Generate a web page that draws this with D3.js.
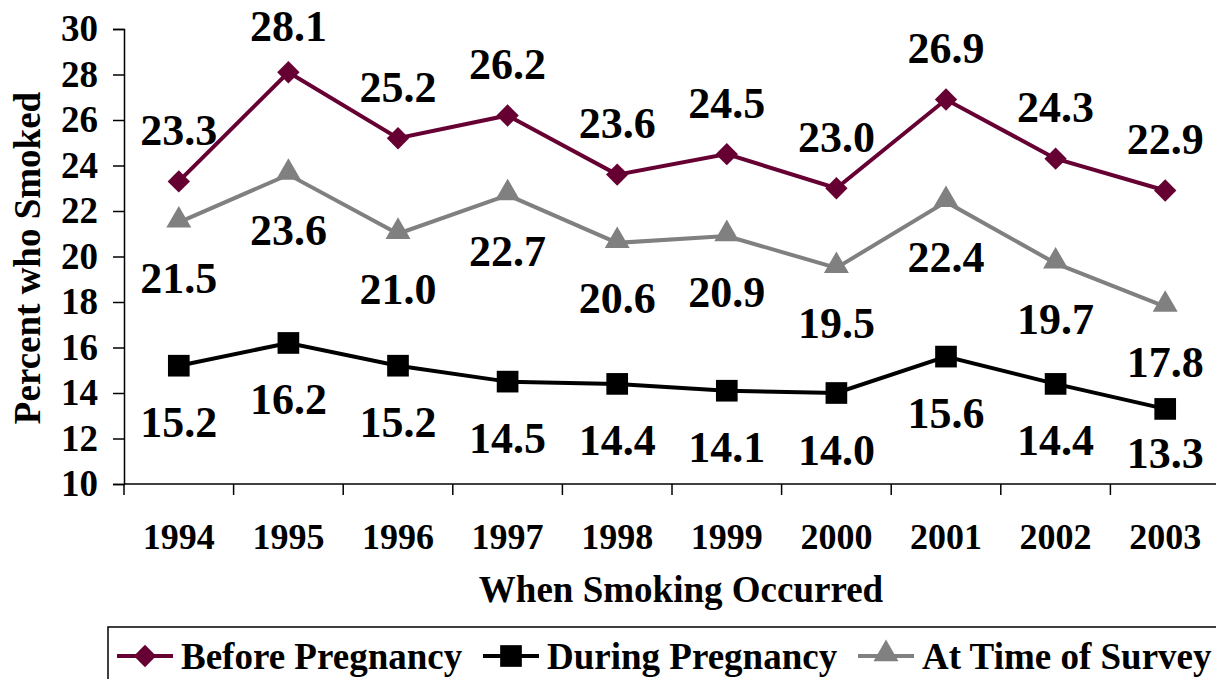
<!DOCTYPE html>
<html>
<head>
<meta charset="utf-8" />
<script src="https://d3js.org/d3.v7.min.js"></script>
<style>
    body { margin: 0; background: #fff; overflow: hidden; }
    svg text { font-family: "Liberation Serif", "Times New Roman", serif; font-weight: bold; fill: #000; }
</style>
</head>
<body>
<svg width="1216" height="679"></svg>
<script>
var years = ["1994", "1995", "1996", "1997", "1998", "1999", "2000", "2001", "2002", "2003"];
var beforePregnancy = [23.3, 28.1, 25.2, 26.2, 23.6, 24.5, 23.0, 26.9, 24.3, 22.9];
var duringPregnancy = [15.2, 16.2, 15.2, 14.5, 14.4, 14.1, 14.0, 15.6, 14.4, 13.3];
var atTimeOfSurvey = [21.5, 23.6, 21.0, 22.7, 20.6, 20.9, 19.5, 22.4, 19.7, 17.8];
var yTicks = [10, 12, 14, 16, 18, 20, 22, 24, 26, 28, 30];

// wide diamond (square turned 45 degrees), like the office-style marker
var wideDiamond = {
    draw: function (context, size) {
        var r = Math.sqrt(size / 2);
        context.moveTo(0, -r);
        context.lineTo(r, 0);
        context.lineTo(0, r);
        context.lineTo(-r, 0);
        context.closePath();
    }
};

var series = [
    {name: "Before Pregnancy", values: beforePregnancy, color: "#660033", symbol: wideDiamond, size: 250, labelDy: -51},
    {name: "During Pregnancy", values: duringPregnancy, color: "#000000", symbol: d3.symbolSquare, size: 470, labelDy: 57},
    {name: "At Time of Survey", values: atTimeOfSurvey, color: "#808080", symbol: d3.symbolTriangle, size: 270, labelDy: 56}
];

var svg = d3.select("svg");
var plotLeft = 124, plotRight = 1220, plotTop = 29, plotBottom = 484;

var x = d3.scaleBand().domain(years).range([plotLeft, plotRight]).padding(0);
var y = d3.scaleLinear().domain([10, 30]).range([plotBottom, plotTop]);

// y axis
var yAxis = svg.append("g")
    .attr("transform", "translate(" + plotLeft + ",0)")
    .call(d3.axisLeft(y).tickValues(yTicks).tickSize(11).tickPadding(15));
yAxis.select(".domain").attr("stroke", "#000").attr("stroke-width", 1.5);
yAxis.selectAll(".tick line").attr("stroke", "#000").attr("stroke-width", 1.5);
yAxis.selectAll("text").style("font-size", "37px").attr("fill", "#000");

// x axis: ticks between categories
var xAxisG = svg.append("g").attr("transform", "translate(0," + plotBottom + ")");
xAxisG.append("line").attr("x1", plotLeft).attr("x2", plotRight).attr("stroke", "#000").attr("stroke-width", 1.5);
var bounds = years.map(function (d) { return x(d); }).concat([x(years[years.length - 1]) + x.bandwidth()]);
xAxisG.selectAll(".bt").data(bounds).enter().append("line")
    .attr("x1", function (d) { return d; }).attr("x2", function (d) { return d; })
    .attr("y1", 0).attr("y2", 11).attr("stroke", "#000").attr("stroke-width", 1.5);
xAxisG.selectAll(".yl").data(years).enter().append("text")
    .attr("x", function (d) { return x(d) + x.bandwidth() / 2; })
    .attr("y", 53)
    .attr("dominant-baseline", "central")
    .attr("text-anchor", "middle")
    .style("font-size", "36px")
    .text(function (d) { return d; });

// axis titles
svg.append("text")
    .attr("transform", "translate(27,258) rotate(-90)")
    .attr("text-anchor", "middle")
    .attr("dominant-baseline", "central")
    .style("font-size", "37px")
    .text("Percent who Smoked");
svg.append("text")
    .attr("x", 681).attr("y", 589)
    .attr("text-anchor", "middle")
    .attr("dominant-baseline", "central")
    .style("font-size", "37px")
    .text("When Smoking Occurred");

var cx = function (d, i) { return x(years[i]) + x.bandwidth() / 2; };
var line = d3.line().x(cx).y(function (d) { return y(d); });

series.forEach(function (s) {
    var g = svg.append("g");
    g.append("path").datum(s.values)
        .attr("d", line)
        .attr("fill", "none")
        .attr("stroke", s.color)
        .attr("stroke-width", 4);
    g.selectAll(".m").data(s.values).enter().append("path")
        .attr("d", d3.symbol().type(s.symbol).size(s.size))
        .attr("transform", function (d, i) {
            var yy = y(d) + (s.symbol === d3.symbolTriangle ? -2 : 0);
            return "translate(" + cx(d, i) + "," + yy + ")";
        })
        .attr("fill", s.color);
    // labels kept inside the chart area
    g.selectAll(".l").data(s.values).enter().append("text")
        .attr("x", cx)
        .attr("y", function (d) { return Math.min(453, Math.max(26, y(d) + s.labelDy)); })
        .attr("text-anchor", "middle")
        .attr("dominant-baseline", "central")
        .style("font-size", "44px")
        .text(function (d) { return d.toFixed(1); });
});

// legend
var legend = svg.append("g");
legend.append("rect")
    .attr("x", 108).attr("y", 627).attr("width", 1130).attr("height", 70)
    .attr("fill", "none").attr("stroke", "#000").attr("stroke-width", 1.5);
var legendX = [117, 483, 858];
series.forEach(function (s, i) {
    var lg = legend.append("g").attr("transform", "translate(" + legendX[i] + ",656)");
    lg.append("line").attr("x1", 0).attr("x2", 56).attr("stroke", s.color).attr("stroke-width", 4);
    lg.append("path")
        .attr("d", d3.symbol().type(s.symbol).size(s.size))
        .attr("transform", "translate(28," + (s.symbol === d3.symbolTriangle ? -2 : 0) + ")")
        .attr("fill", s.color);
    lg.append("text")
        .attr("x", 64).attr("y", 0)
        .attr("dominant-baseline", "central")
        .style("font-size", "37px")
        .text(s.name);
});
</script>
</body>
</html>
